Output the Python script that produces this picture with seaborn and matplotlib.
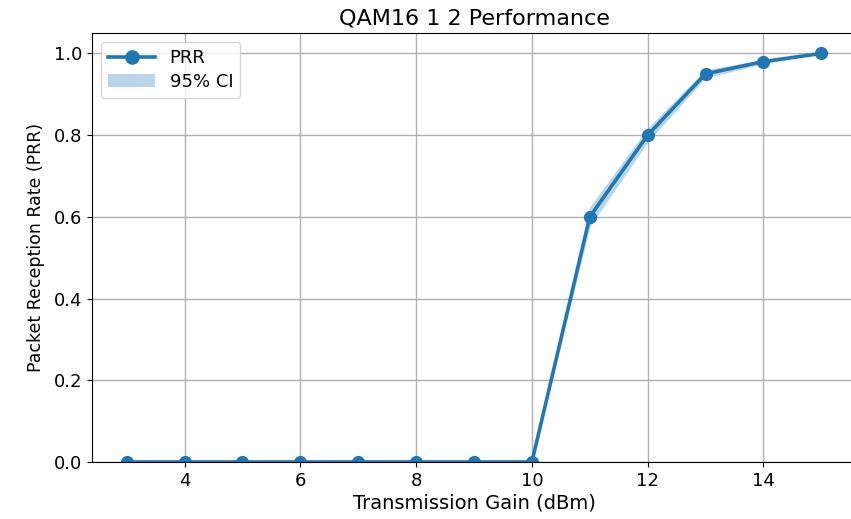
import matplotlib
matplotlib.use("Agg")
import matplotlib.pyplot as plt
import seaborn as sns
import pandas as pd
from matplotlib.patches import Patch
from matplotlib.lines import Line2D

# data
gain = [3, 4, 5, 6, 7, 8, 9, 10, 11, 12, 13, 14, 15]
prr = [0, 0, 0, 0, 0, 0, 0, 0, 0.60, 0.80, 0.95, 0.98, 1.00]
ci_low = [0, 0, 0, 0, 0, 0, 0, 0, 0.575, 0.783, 0.940, 0.975, 1.00]
ci_high = [0, 0, 0, 0, 0, 0, 0, 0, 0.625, 0.817, 0.960, 0.985, 1.00]

df = pd.DataFrame({"gain": gain, "prr": prr, "lo": ci_low, "hi": ci_high})

plt.rcParams["font.family"] = ["DejaVu Sans"]
plt.rcParams["font.size"] = 13

fig = plt.figure(figsize=(8.51, 5.19), dpi=100)
# axes runs a bit past the right edge, like the cropped original
ax = fig.add_axes([92 / 851, 57 / 519, 764 / 851, 429 / 519])

color = "#1f77b4"
ax.fill_between(df["gain"], df["lo"], df["hi"], color=color, alpha=0.3, linewidth=0)
sns.lineplot(data=df, x="gain", y="prr", ax=ax, color=color, marker="o",
             markersize=9.5, linewidth=2.6, markeredgewidth=0)

ax.set_xlim(2.4, 15.6)
ax.set_ylim(0, 1.05)
ax.set_xticks([4, 6, 8, 10, 12, 14])
ax.set_yticks([0.0, 0.2, 0.4, 0.6, 0.8, 1.0])
ax.tick_params(labelsize=13)
ax.grid(True, color="#b0b0b0", linewidth=1)
ax.set_axisbelow(True)
ax.spines["right"].set_visible(False)  # cut off in the original

ax.set_title("QAM16 1 2 Performance", fontsize=16, pad=6)
ax.set_xlabel("Transmission Gain (dBm)", fontsize=14, labelpad=3)
ax.set_ylabel("Packet Reception Rate (PRR)", fontsize=12.5, labelpad=6)

handles = [
    Line2D([0], [0], color=color, marker="o", markersize=9.5, linewidth=2.6),
    Patch(facecolor=color, alpha=0.3),
]
ax.legend(handles, ["PRR", "95% CI"], loc="upper left", fontsize=13,
          handlelength=2.6, labelspacing=0.3, borderpad=0.4)

fig.savefig("out.png", dpi=100)
